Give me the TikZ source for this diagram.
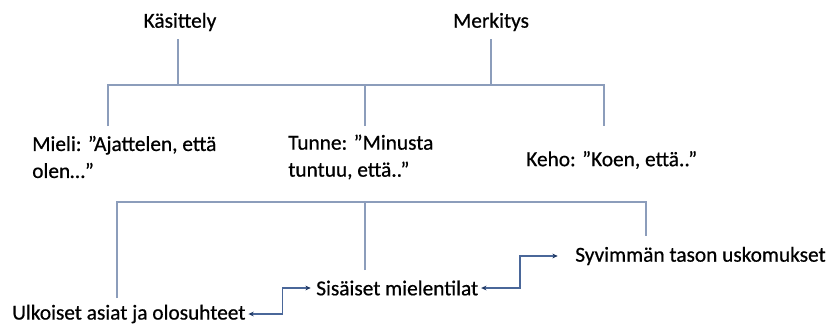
\documentclass[tikz,border=0pt]{standalone}
\usepackage{fontspec}
\setmainfont{Carlito}[FakeBold=0.6]
\usetikzlibrary{arrows.meta, positioning, calc}

\definecolor{treeblue}{HTML}{8C9DBB}
\definecolor{linkblue}{HTML}{4A6799}
\definecolor{tipblue}{HTML}{1F3864}

\begin{document}
\begin{tikzpicture}[
    x=0.75pt, y=-0.75pt,
    % Define styles
    label/.style={
        inner sep=0pt,
        font=\fontsize{16pt}{20.25pt}\selectfont,
        text=black,
        align=left
    },
    branch/.style={
        draw=treeblue,
        line width=1.3pt
    },
    link/.style={
        draw=linkblue,
        line width=1.3pt,
        {Stealth[length=4pt,width=3.6pt,color=tipblue]}-{Stealth[length=4pt,width=3.6pt,color=tipblue]}
    }
]
\useasboundingbox (0,0) rectangle (827,325);

% ============================================================
% Top level
% ============================================================
\node[label] (kasittely) at (180,22) {Käsittely};
\node[label] (merkitys) at (491,22) {Merkitys};

% ============================================================
% Middle level
% ============================================================
\node[label, anchor=west] (mieli) at (32,157) {Mieli: ”Ajattelen, että\\olen…”};
\node[label, anchor=west] (tunne) at (288,157) {Tunne: ”Minusta\\tuntuu, että..”};
\node[label, anchor=west] (keho) at (526,160) {Keho: ”Koen, että..”};

% ============================================================
% Bottom level
% ============================================================
\node[label, anchor=west] (ulkoiset) at (12,314) {Ulkoiset asiat ja olosuhteet};
\node[label, anchor=west] (sisaiset) at (316,288) {Sisäiset mielentilat};
\node[label, anchor=west] (syvimman) at (575,256) {Syvimmän tason uskomukset};

% ============================================================
% Tree connections
% ============================================================
\coordinate (bar-top) at (365,85);
\coordinate (mieli-in) at (108,126);
\coordinate (tunne-in) at (365,126);
\coordinate (keho-in) at (604,126);

\draw[branch] ([yshift=-6pt]kasittely.south -| 178,0) -- (178,0 |- bar-top);
\draw[branch] ([yshift=-6pt]merkitys.south) -- (merkitys.south |- bar-top);
\draw[branch] (mieli-in) |- (bar-top) -| (keho-in);
\draw[branch] (tunne-in) -- (bar-top);

\coordinate (bar-low) at (365,202);
\coordinate (ulkoiset-in) at (117,298);
\coordinate (sisaiset-in) at (365,270);
\coordinate (syvimman-in) at (646,236);

\draw[branch] (ulkoiset-in) |- (bar-low) -| (syvimman-in);
\draw[branch] (sisaiset-in) -- (bar-low);

% ============================================================
% Arrows between bottom nodes
% ============================================================
\draw[link] ([xshift=2pt]ulkoiset.east) -- ++(34,0) |- ([xshift=-4pt]sisaiset.west);
\draw[link] ([xshift=2pt]sisaiset.east) -- ++(39,0) |- ([xshift=-13pt]syvimman.west);

\end{tikzpicture}
\end{document}
